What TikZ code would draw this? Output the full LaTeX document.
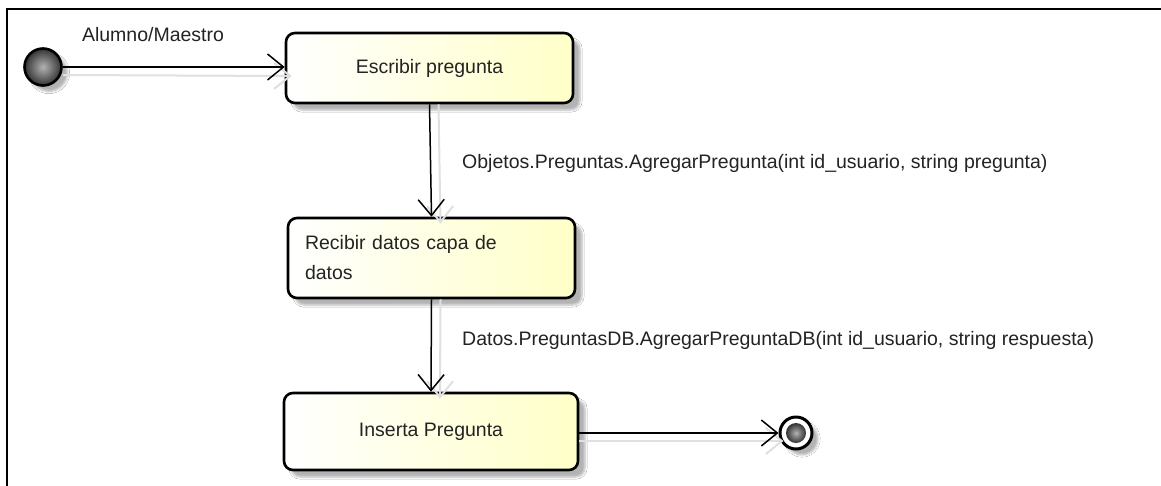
\documentclass[tikz,border=0pt]{standalone}
\usepackage{fontspec}
\setmainfont{Liberation Sans}
\usetikzlibrary{arrows.meta,shadows.blur}

\definecolor{actfill}{RGB}{255,255,200}
\definecolor{inkgray}{RGB}{35,35,35}

\tikzset{
  labeltext/.style={font=\fontsize{19.5pt}{30pt}\selectfont, text=inkgray, inner sep=0pt},
  activity/.style={draw=black, line width=2.6pt, rounded corners=9pt,
    left color=white, right color=actfill,
    labeltext,
    blur shadow={shadow xshift=7pt, shadow yshift=-7pt, shadow opacity=30, shadow blur steps=6}},
  ballfill/.style={shading=radial, inner color=black!30, outer color=black!80},
  startnode/.style={circle, draw=black, line width=2.6pt, minimum size=37pt, inner sep=0pt,
    ballfill,
    blur shadow={shadow xshift=6pt, shadow yshift=-6pt, shadow opacity=30, shadow blur steps=6}},
  endring/.style={circle, draw=black, line width=3pt, fill=white, minimum size=32pt, inner sep=0pt,
    blur shadow={shadow xshift=6pt, shadow yshift=-6pt, shadow opacity=30, shadow blur steps=6}},
  enddot/.style={circle, ballfill, minimum size=20pt, inner sep=0pt},
  flow/.style={draw=black, line width=1.5pt, -{Straight Barb[length=16pt, width=26pt]}},
  ghost/.style={draw=black!12, line width=2pt, -{Straight Barb[length=16pt, width=26pt]}},
  frameline/.style={draw=black, line width=2.6pt}
}

\begin{document}
\begin{tikzpicture}[x=1pt, y=-1pt]
  \useasboundingbox (0,0) rectangle (1161,485);
  \fill[white] (0,0) rectangle (1161,485);
  \clip (0,0) rectangle (1161,485);

  % outer frame (runs past the right and bottom edges)
  \draw[frameline] (7,9) rectangle (1180,500);

  % nodes
  \node[startnode] (start) at (43,67) {};
  \node[activity, minimum width=287pt, minimum height=70pt] (write) at (429.5,68) {Escribir pregunta};
  \node[activity, minimum width=287pt, minimum height=80pt, text width=253pt, inner xsep=17pt,
        align=left] (receive) at (431.5,258) {Recibir datos capa de\\datos};
  \node[activity, minimum width=294pt, minimum height=77pt] (insert) at (431,431.5) {Inserta Pregunta};
  \node[endring] (stop) at (796,433) {};
  \node[enddot] (stopdot) at (stop.center) {};

  % faint connector shadows
  \draw[ghost] ([shift={(0,8)}]start.east) -- ([shift={(7,8)}]write.west);
  \draw[ghost] ([shift={(9,0)}]write.south) -- ([shift={(9,7)}]receive.north);
  \draw[ghost] ([shift={(9,0)}]receive.south) -- ([shift={(9,7)}]insert.north);
  \draw[ghost] ([shift={(0,8)}]insert.east |- stop.center) -- ([shift={(5,8)}]stop.west);

  % connectors
  \draw[flow] (start.east) -- (write.west |- start.east);
  \draw[flow] (write.south) -- (receive.north);
  \draw[flow] (receive.south) -- (insert.north);
  \draw[flow] (insert.east |- stop.center) -- (stop.west);

  % connector labels
  \node[labeltext] (actor) at (153,35) {Alumno/Maestro};
  \node[labeltext, anchor=west] (call1) at (462,163)
    {Objetos.Preguntas.AgregarPregunta(int id\_usuario, string pregunta)};
  \node[labeltext, anchor=west] (call2) at (462,340)
    {Datos.PreguntasDB.AgregarPreguntaDB(int id\_usuario, string respuesta)};
\end{tikzpicture}
\end{document}
